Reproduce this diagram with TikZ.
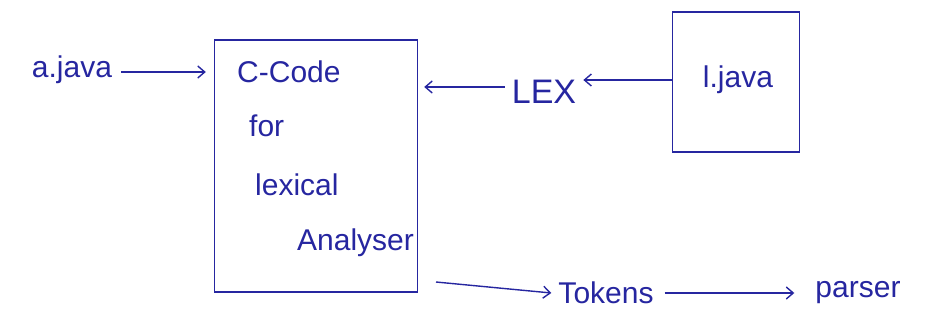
\documentclass[tikz,border=0pt]{standalone}
\usepackage{fontspec}
\setmainfont{Liberation Sans}
\usetikzlibrary{arrows.meta}
\definecolor{ink}{HTML}{2626A0}
\begin{document}
\begin{tikzpicture}[x=1pt,y=-1pt,
  ink/.style={draw=ink,line width=1.4pt},
  lbl/.style={text=ink,font=\fontsize{30}{34}\selectfont,inner sep=1pt},
  arr/.style={ink,-{Straight Barb[length=7pt,width=12pt]}}]
\useasboundingbox (0,0) rectangle (925,323);
% nodes
\node[lbl] (ajava) at (72,70) {a.java};
\node[ink,minimum width=203pt,minimum height=252pt] (lexer) at (316,166) {};
\node[lbl,anchor=west] (t1) at (236,72) {C-Code};
\node[lbl,anchor=west] (t2) at (248,126) {for};
\node[lbl,anchor=west] (t3) at (254,185) {lexical};
\node[lbl,anchor=west] (t4) at (296,243) {Analyser};
\node[lbl,font=\fontsize{34}{38}\selectfont] (lex) at (544,92) {LEX};
\node[ink,minimum width=127pt,minimum height=140pt] (src) at (736,82) {};
\node[lbl] (ljava) at (738,80) {l.java};
\coordinate (out) at (436,282);
\node[lbl] (tokens) at (606,293) {Tokens};
\node[lbl] (parser) at (858,293) {parser};
% connectors
\draw[arr] ([xshift=8pt,yshift=-2pt]ajava.east) -- ([xshift=-8pt,yshift=-2pt]lexer.west |- ajava.east);
\draw[arr] ([xshift=-6pt,yshift=5pt]lex.west) -- ([xshift=6pt,yshift=5pt]lexer.east |- lex.west);
\draw[arr] (src.west |- ljava) -- ([xshift=6pt]lex.east |- ljava);
\draw[arr] (out) -- ([xshift=-6pt]tokens.west);
\draw[arr] ([xshift=10pt]tokens.east) -- ([xshift=-20pt]parser.west |- tokens.east);
\end{tikzpicture}
\end{document}
